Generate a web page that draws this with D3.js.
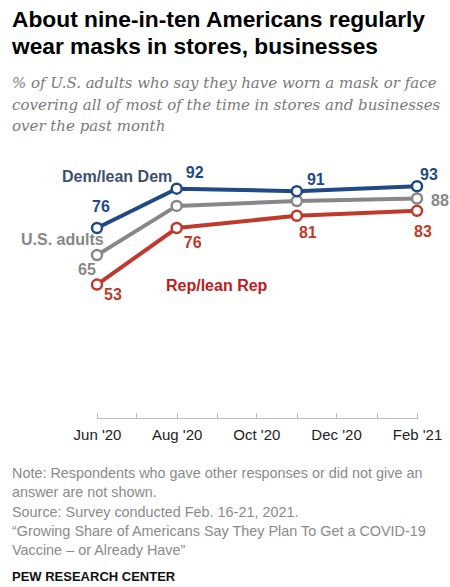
<!DOCTYPE html>
<html lang="en">
  <head>
    <meta charset="UTF-8" />
    <script src="https://d3js.org/d3.v7.min.js"></script>
    <title>Masks in stores</title>
    <style>
      body { margin: 0; background: #fff; }
      .axis path, .axis line { fill: none; stroke: #bdbdbd; shape-rendering: crispEdges; }
      .axis text { font-family: 'Liberation Sans', Arial, sans-serif; font-size: 15px; fill: #222; }
    </style>
  </head>
  <body>
    <script>
      var width = 450
      var height = 587

      // survey waves
      var dates = ['2020-06-01', '2020-08-01', '2020-11-01', '2021-02-01']
      var dem = [76, 92, 91, 93]
      var total = [65, 85, 87, 88]
      var rep = [53, 76, 81, 83]
      var tickLabels = ["Jun '20", "Aug '20", "Oct '20", "Dec '20", "Feb '21"]

      var parse = d3.timeParse('%Y-%m-%d')

      var series = [
        { name: 'Dem/lean Dem', values: dem, color: '#1f4a86', show: [0, 1, 2, 3] },
        { name: 'U.S. adults', values: total, color: '#878787', show: [0, 3] },
        { name: 'Rep/lean Rep', values: rep, color: '#c0392b', show: [0, 1, 2, 3] }
      ]

      // label offsets from each point (dx, dy)
      var offsets = {
        'Dem/lean Dem': [[4, -22], [18, -16], [19, -12], [12, -12]],
        'U.S. adults': [[-10, 14], null, null, [23, 2]],
        'Rep/lean Rep': [[16, 10], [16, 14], [11, 17], [6, 21]]
      }

      var svg = d3.select('body').append('svg')
        .attr('width', width)
        .attr('height', height)

      // title
      var title = [
        { text: 'About nine-in-ten Americans regularly', w: 413 },
        { text: 'wear masks in stores, businesses', w: 366 }
      ]
      svg.selectAll('.title').data(title).enter().append('text')
        .attr('class', 'title')
        .attr('x', 12)
        .attr('y', function (d, i) { return 27 + i * 26.5 })
        .attr('font-family', "'Liberation Sans', Arial, sans-serif")
        .attr('font-weight', 700)
        .attr('font-size', 22)
        .attr('textLength', function (d) { return d.w })
        .attr('lengthAdjust', 'spacingAndGlyphs')
        .attr('fill', '#000')
        .text(function (d) { return d.text })

      var subtitle = [
        '% of U.S. adults who say they have worn a mask or face',
        'covering all of most of the time in stores and businesses',
        'over the past month'
      ]
      svg.selectAll('.sub').data(subtitle).enter().append('text')
        .attr('class', 'sub')
        .attr('x', 12)
        .attr('y', function (d, i) { return 88 + i * 21.5 })
        .attr('font-family', "'DejaVu Serif', Georgia, serif")
        .attr('font-style', 'italic')
        .attr('font-size', 15)
        .attr('fill', '#7a7a7a')
        .text(function (d) { return d })

      // scales
      var x = d3.scaleTime()
        .domain([parse('2020-06-01'), parse('2021-02-01')])
        .range([97, 417])
      var y = d3.scaleLinear().domain([0, 100]).range([415, 169])

      var xAxis = d3.axisBottom(x)
        .ticks(d3.timeMonth.every(1))
        .tickSizeInner(-5)
        .tickSizeOuter(-5)
        .tickPadding(11)
        .tickFormat(function (d) {
          var m = d.getMonth()
          if (m % 2 === 1) {
            var idx = [5, 7, 9, 11, 1].indexOf(m)
            return tickLabels[idx]
          }
          return ''
        })

      svg.append('g')
        .attr('class', 'axis')
        .attr('transform', 'translate(0,418)')
        .call(xAxis)

      var line = d3.line()
        .x(function (d) { return x(d.date) })
        .y(function (d) { return y(d.value) })

      series.forEach(function (s) {
        s.pts = s.values.map(function (v, i) { return { date: parse(dates[i]), value: v, i: i } })
      })

      // gray first, then blue, red on top
      var order = [series[1], series[0], series[2]]
      order.forEach(function (s) {
        svg.append('path')
          .datum(s.pts)
          .attr('d', line)
          .attr('fill', 'none')
          .attr('stroke', s.color)
          .attr('stroke-width', 4)
          .attr('stroke-linejoin', 'round')

        svg.selectAll(null).data(s.pts).enter().append('circle')
          .attr('cx', function (d) { return x(d.date) })
          .attr('cy', function (d) { return y(d.value) })
          .attr('r', 5)
          .attr('fill', '#fff')
          .attr('stroke', s.color)
          .attr('stroke-width', 2.5)

        svg.selectAll(null).data(s.pts.filter(function (d) { return s.show.indexOf(d.i) >= 0 }))
          .enter().append('text')
          .attr('x', function (d) { return x(d.date) + offsets[s.name][d.i][0] })
          .attr('y', function (d) { return y(d.value) + offsets[s.name][d.i][1] })
          .attr('dy', '0.35em')
          .attr('text-anchor', 'middle')
          .attr('font-family', "'Liberation Sans', Arial, sans-serif")
          .attr('font-weight', 700)
          .attr('font-size', 16)
          .attr('fill', s.color)
          .text(function (d) { return d.value })
      })

      // series names
      var names = [
        { text: 'Dem/lean Dem', x: 62, y: 176, color: '#3d4f71' },
        { text: 'U.S. adults', x: 21, y: 239, color: '#878787' },
        { text: 'Rep/lean Rep', x: 166, y: 285, color: '#c01b21' }
      ]
      svg.selectAll('.name').data(names).enter().append('text')
        .attr('class', 'name')
        .attr('x', function (d) { return d.x })
        .attr('y', function (d) { return d.y })
        .attr('dy', '0.35em')
        .attr('font-family', "'Liberation Sans', Arial, sans-serif")
        .attr('font-weight', 700)
        .attr('font-size', 16)
        .attr('fill', function (d) { return d.color })
        .text(function (d) { return d.text })

      // notes
      var notes = [
        'Note: Respondents who gave other responses or did not give an',
        'answer are not shown.',
        'Source: Survey conducted Feb. 16-21, 2021.',
        '\u201cGrowing Share of Americans Say They Plan To Get a COVID-19',
        'Vaccine \u2013 or Already Have\u201d'
      ]
      svg.selectAll('.note').data(notes).enter().append('text')
        .attr('class', 'note')
        .attr('x', 12)
        .attr('y', function (d, i) { return 473 + i * 19.3 })
        .attr('dy', '0.35em')
        .attr('font-family', "'Liberation Sans', Arial, sans-serif")
        .attr('font-size', 14.4)
        .attr('fill', '#8a8a8a')
        .text(function (d) { return d })

      svg.append('text')
        .attr('x', 12).attr('y', 576)
        .attr('dy', '0.35em')
        .attr('font-family', "'Liberation Sans', Arial, sans-serif")
        .attr('font-weight', 700)
        .attr('font-size', 13)
        .attr('fill', '#111')
        .text('PEW RESEARCH CENTER')
    </script>
  </body>
</html>
